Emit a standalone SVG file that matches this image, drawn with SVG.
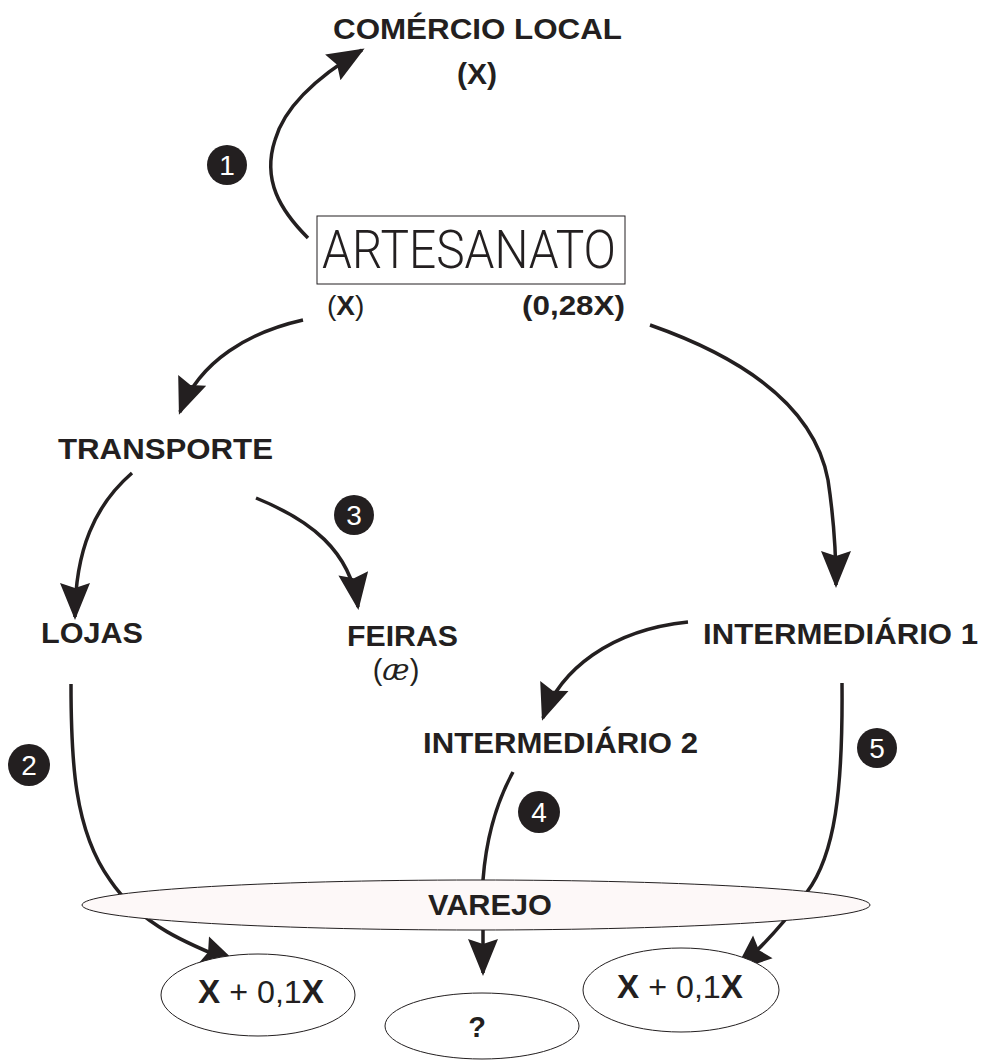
<svg xmlns="http://www.w3.org/2000/svg" width="984" height="1063" viewBox="0 0 984 1063">
<defs>
<style>
.t{font-family:"Liberation Sans",Arial,sans-serif;font-weight:bold;fill:#231f20}
.r{font-family:"Liberation Sans",Arial,sans-serif;font-weight:normal;fill:#231f20}
.c{fill:none;stroke:#231f20;stroke-width:3.5;stroke-linecap:butt}
.b{fill:#231f20}
.bn{font-family:"Liberation Sans",Arial,sans-serif;fill:#fff;font-size:28px;text-anchor:middle}
.e{fill:#fff;stroke:#231f20;stroke-width:1}
</style>
<marker id="ah" markerUnits="userSpaceOnUse" markerWidth="40" markerHeight="32" refX="34" refY="15" orient="auto" viewBox="0 0 40 32" overflow="visible">
<path d="M0,0 L37,15 L0,30 L5,15 z" fill="#231f20"/>
</marker>
</defs>
<rect width="984" height="1063" fill="#fff"/>
<g id="connectors">
<path class="c" d="M308,238 C280,210 262,180 275,140 C285,105 320,75 362,50" marker-end="url(#ah)"/>
<path class="c" d="M303,320 C250,332 200,360 180,412" marker-end="url(#ah)"/>
<path class="c" d="M650,325 C750,360 815,410 828,480 C834,520 836,550 836,585" marker-end="url(#ah)"/>
<path class="c" d="M132,473 C95,505 75,550 75,617" marker-end="url(#ah)"/>
<path class="c" d="M256,498 C310,520 350,550 358,607" marker-end="url(#ah)"/>
<path class="c" d="M688,622 C610,630 560,670 543,718" marker-end="url(#ah)"/>
<path class="c" d="M71,684 C71,760 74,830 110,880 C140,925 190,945 235,963" marker-end="url(#ah)"/>
<path class="c" d="M842,683 C843,790 835,855 807,892 C790,915 765,945 737,969" marker-end="url(#ah)"/>
<path class="c" d="M513,772 C495,805 486,840 483,880 L483,973" marker-end="url(#ah)"/>
</g>
<g id="comercio">
<text class="t" x="477.5" y="39" font-size="29" text-anchor="middle" textLength="289" lengthAdjust="spacingAndGlyphs">COMÉRCIO LOCAL</text>
<text class="t" x="477" y="84" font-size="30" text-anchor="middle">(X)</text>
</g>
<g id="artesanato">
<rect x="317" y="216" width="308" height="68" fill="#fff" stroke="#231f20" stroke-width="1"/>
<text x="322" y="268" font-family="Roboto,'Liberation Sans',sans-serif" font-weight="300" fill="#231f20" font-size="53" textLength="294" lengthAdjust="spacingAndGlyphs">ARTESANATO</text>
<text class="r" x="327" y="315" font-size="28">(<tspan font-weight="bold">X</tspan>)</text>
<text class="t" x="522" y="315" font-size="28" textLength="103" lengthAdjust="spacingAndGlyphs">(0,28X)</text>
</g>
<g id="transporte">
<text class="t" x="58" y="459" font-size="29" textLength="215" lengthAdjust="spacingAndGlyphs">TRANSPORTE</text>
</g>
<g id="lojas">
<text class="t" x="41" y="643" font-size="29" textLength="102" lengthAdjust="spacingAndGlyphs">LOJAS</text>
</g>
<g id="feiras">
<text class="t" x="347" y="646" font-size="30" textLength="111" lengthAdjust="spacingAndGlyphs">FEIRAS</text>
<text class="r" x="396" y="680" font-size="29" text-anchor="middle">(<tspan font-style="italic" font-family="DejaVu Serif, serif" font-weight="200">æ</tspan>)</text>
</g>
<g id="intermediario1">
<text class="t" x="703" y="644" font-size="29" textLength="275" lengthAdjust="spacingAndGlyphs">INTERMEDIÁRIO 1</text>
</g>
<g id="intermediario2">
<text class="t" x="423" y="753" font-size="29" textLength="275" lengthAdjust="spacingAndGlyphs">INTERMEDIÁRIO 2</text>
</g>
<g id="badges">
<circle class="b" cx="227" cy="165" r="20"/>
<text class="bn" x="227" y="175">1</text>
<circle class="b" cx="29" cy="765" r="21"/>
<text class="bn" x="29" y="775">2</text>
<circle class="b" cx="354" cy="515" r="20"/>
<text class="bn" x="354" y="525">3</text>
<circle class="b" cx="539" cy="812" r="21"/>
<text class="bn" x="539" y="822">4</text>
<circle class="b" cx="877" cy="748" r="20"/>
<text class="bn" x="877" y="758">5</text>
</g>
<g id="varejo">
<ellipse cx="476" cy="905" rx="394" ry="25" fill="#fdf8f8" stroke="#231f20" stroke-width="1"/>
<text class="t" x="428" y="915" font-size="30" textLength="124" lengthAdjust="spacingAndGlyphs">VAREJO</text>
</g>
<g id="resultado1">
<ellipse class="e" cx="258" cy="995" rx="97" ry="41"/>
<text class="r" x="198" y="1003" font-size="32" textLength="126" lengthAdjust="spacingAndGlyphs"><tspan font-weight="bold" font-size="33">X</tspan> + 0,1<tspan font-weight="bold" font-size="33">X</tspan></text>
</g>
<g id="resultado2">
<ellipse class="e" cx="482" cy="1026" rx="97" ry="33"/>
<text class="t" x="477" y="1037" font-size="29" text-anchor="middle">?</text>
</g>
<g id="resultado3">
<ellipse class="e" cx="681" cy="990" rx="98" ry="42"/>
<text class="r" x="617" y="998" font-size="32" textLength="126" lengthAdjust="spacingAndGlyphs"><tspan font-weight="bold" font-size="33">X</tspan> + 0,1<tspan font-weight="bold" font-size="33">X</tspan></text>
</g>
</svg>
